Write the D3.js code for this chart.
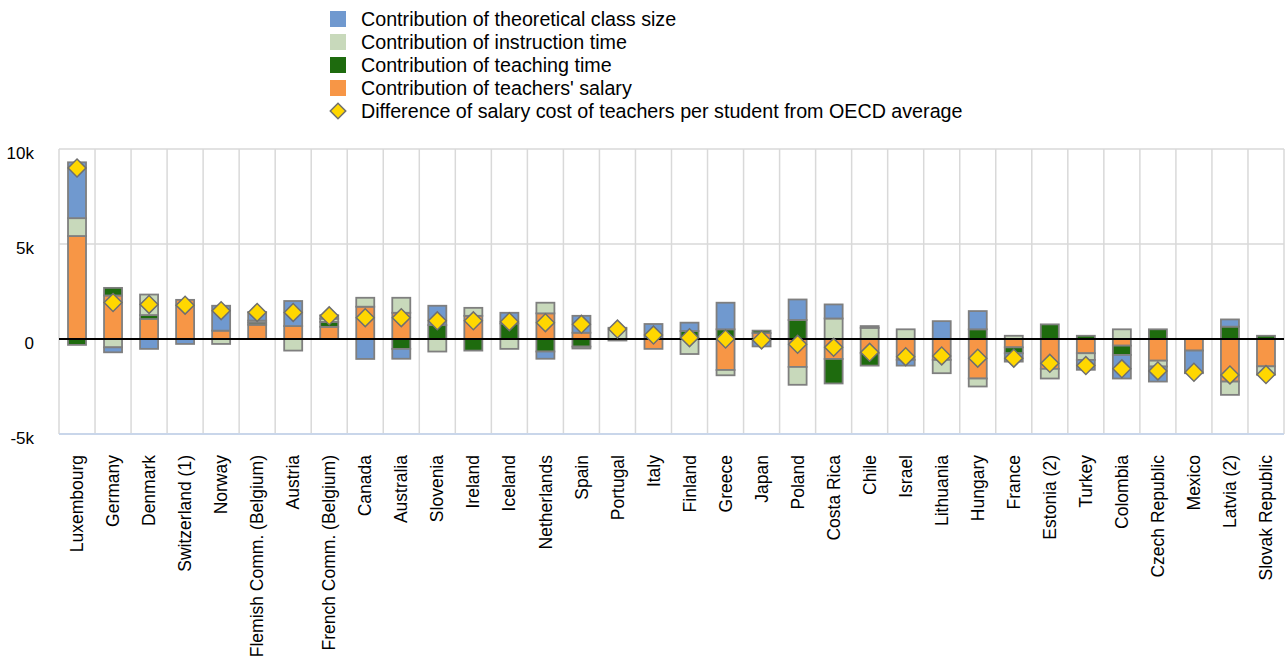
<!DOCTYPE html>
<html>
<head>
<meta charset="utf-8">
<script src="https://cdn.jsdelivr.net/npm/d3@7"></script>
<style>
  body { margin: 0; background: #fff; }
  text { font-family: "Liberation Sans", Arial, sans-serif; fill: #000; }
</style>
</head>
<body>
<div class="chart"></div>
<script>
// data (USD)
const countries = ["Luxembourg", "Germany", "Denmark", "Switzerland (1)", "Norway",
  "Flemish Comm. (Belgium)", "Austria", "French Comm. (Belgium)", "Canada", "Australia",
  "Slovenia", "Ireland", "Iceland", "Netherlands", "Spain", "Portugal", "Italy", "Finland",
  "Greece", "Japan", "Poland", "Costa Rica", "Chile", "Israel", "Lithuania", "Hungary",
  "France", "Estonia (2)", "Turkey", "Colombia", "Czech Republic", "Mexico", "Latvia (2)",
  "Slovak Republic"];
const classSize   = [2940, -260, -520, -260, 1310, 450, 1320, 180, -1050, -520, 1020, 0, 560, -380, 890, 0, 790, 440, 1400, -390, 1080, 740, 90, -300, 940, 960, -440, 0, -520, -1240, -790, -1190, 380, 0];
const instruction = [940, -440, 1080, 0, -260, 110, -610, 170, 470, 790, -660, 420, -520, 560, -100, 590, 0, -790, -280, 0, -940, 1080, 590, 510, -700, -420, 170, -510, -350, 510, -310, 0, -700, -440];
const teaching    = [-310, 400, 210, 0, 0, 110, 0, 260, 0, -520, 730, -610, 820, -660, -400, -80, 0, 420, 510, 130, 1000, -1290, -650, 0, 0, 510, -310, 770, 170, -490, 510, 0, 650, 170];
const salary      = [5420, 2290, 1050, 2060, 440, 750, 680, 640, 1700, 1380, 0, 1220, 0, 1350, 330, 0, -520, 0, -1630, 310, -1470, -1050, -750, -1100, -1100, -2080, -440, -1570, -750, -350, -1140, -610, -2240, -1440];
const difference  = [9000, 1920, 1820, 1780, 1490, 1400, 1400, 1220, 1120, 1120, 960, 960, 910, 860, 770, 520, 210, 70, 0, -50, -280, -440, -700, -930, -890, -1010, -1010, -1280, -1400, -1570, -1680, -1750, -1890, -1870];
const yTicks = [-5000, 0, 5000, 10000];
const yTickLabels = ["-5k", "0", "5k", "10k"];

// series: stacking order from zero outward, legend order is separate
const series = [
  { key: "salary", label: "Contribution of teachers' salary", color: "#f79646", values: salary },
  { key: "teaching", label: "Contribution of teaching time", color: "#1e6b0e", values: teaching },
  { key: "instruction", label: "Contribution of instruction time", color: "#c8d9bb", values: instruction },
  { key: "classSize", label: "Contribution of theoretical class size", color: "#7099cf", values: classSize }
];
const legendOrder = ["classSize", "instruction", "teaching", "salary"];

const W = 1285, H = 661;
const plot = { left: 59, right: 1284, top: 149, bottom: 434 };

const svg = d3.select(".chart").append("svg")
  .attr("width", W).attr("height", H);

const rows = countries.map((c, i) => {
  const r = { country: c, diff: difference[i] };
  series.forEach(s => r[s.key] = s.values[i]);
  return r;
});

const x = d3.scaleBand().domain(countries).range([plot.left, plot.right]).padding(0);
const y = d3.scaleLinear().domain([-5000, 10000]).range([plot.bottom, plot.top]);

// grid
const grid = svg.append("g");
grid.selectAll(".vgrid")
  .data(d3.range(countries.length + 1))
  .enter().append("line")
  .attr("x1", i => plot.left + i * x.step())
  .attr("x2", i => plot.left + i * x.step())
  .attr("y1", y(10000)).attr("y2", y(-5000))
  .attr("stroke", "#d9d9d9").attr("stroke-width", 1.5);
grid.selectAll(".hgrid")
  .data([5000, 10000])
  .enter().append("line")
  .attr("x1", plot.left).attr("x2", plot.right)
  .attr("y1", d => y(d)).attr("y2", d => y(d))
  .attr("stroke", "#d9d9d9").attr("stroke-width", 1.5);
grid.append("line")
  .attr("x1", plot.left).attr("x2", plot.right)
  .attr("y1", y(-5000)).attr("y2", y(-5000))
  .attr("stroke", "#c9d6ea").attr("stroke-width", 2);

// y axis labels
const yAxis = d3.axisLeft(y).tickValues(yTicks)
  .tickFormat((d, i) => yTickLabels[i]).tickSize(0).tickPadding(0);
svg.append("g")
  .attr("transform", "translate(34,0)")
  .call(yAxis)
  .call(g => g.select(".domain").remove())
  .call(g => g.selectAll("text")
    .attr("dy", "0.55em")
    .style("font-size", "17px")
    .style("font-family", "'Liberation Sans', Arial, sans-serif")
    .attr("fill", "#000"));

// stacked bars
const stack = d3.stack()
  .keys(series.map(s => s.key))
  .offset(d3.stackOffsetDiverging);
const stacked = stack(rows);
const barW = x.bandwidth() * 0.5;

svg.append("g").selectAll("g")
  .data(stacked)
  .enter().append("g")
  .attr("fill", (d, i) => series[i].color)
  .selectAll("rect")
  .data(d => d.filter(p => p[1] - p[0] !== 0))
  .enter().append("rect")
  .attr("x", d => x(d.data.country) + (x.bandwidth() - barW) / 2)
  .attr("width", barW)
  .attr("y", d => y(d[1]))
  .attr("height", d => y(d[0]) - y(d[1]))
  .attr("stroke", "#7f7f7f")
  .attr("stroke-width", 1.8);

// zero line
svg.append("line")
  .attr("x1", plot.left).attr("x2", plot.right)
  .attr("y1", y(0)).attr("y2", y(0))
  .attr("stroke", "#000").attr("stroke-width", 2);

// diamonds
const diamond = d3.symbol().type(d3.symbolSquare).size(160);
svg.append("g").selectAll("path")
  .data(rows)
  .enter().append("path")
  .attr("d", diamond)
  .attr("transform", d => `translate(${x(d.country) + x.bandwidth() / 2},${y(d.diff)}) rotate(45)`)
  .attr("fill", "#ffd700")
  .attr("stroke", "#6f6f6f")
  .attr("stroke-width", 1.5);

// x labels (rotated)
svg.append("g").selectAll("text")
  .data(countries)
  .enter().append("text")
  .attr("transform", d => `translate(${x(d) + x.bandwidth() / 2},455) rotate(-90)`)
  .attr("text-anchor", "end")
  .attr("dy", "0.35em")
  .style("font-size", "17.5px")
  .text(d => d);

// legend
const legendItems = legendOrder.map(k => series.find(s => s.key === k));
const legend = svg.append("g").attr("transform", "translate(330,19)");
legendItems.forEach((s, i) => {
  legend.append("rect")
    .attr("x", 0).attr("y", i * 23 - 8)
    .attr("width", 16).attr("height", 16)
    .attr("fill", s.color);
  legend.append("text")
    .attr("x", 31).attr("y", i * 23)
    .attr("dy", "0.35em")
    .style("font-size", "19.7px")
    .text(s.label);
});
legend.append("path")
  .attr("d", d3.symbol().type(d3.symbolSquare).size(120))
  .attr("transform", `translate(8,${4 * 23}) rotate(45)`)
  .attr("fill", "#ffd700").attr("stroke", "#6f6f6f").attr("stroke-width", 1.5);
legend.append("text")
  .attr("x", 31).attr("y", 4 * 23)
  .attr("dy", "0.35em")
  .style("font-size", "19.7px")
  .text("Difference of salary cost of teachers per student from OECD average");
</script>
</body>
</html>
